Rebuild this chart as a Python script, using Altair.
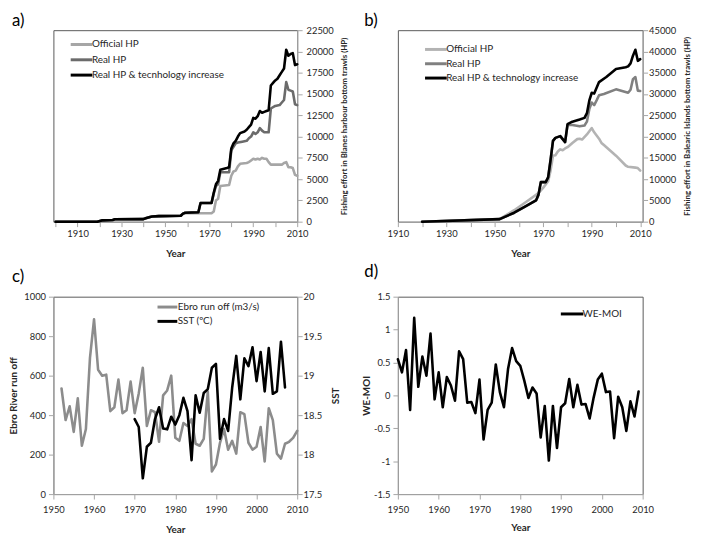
import altair as alt
import pandas as pd

FONT = "Lato"
TXT = "#262626"
AXC = "#a6a6a6"

# ---------------- (a) Blanes harbour ----------------
a_series = ["Official HP", "Real HP", "Real HP & tecnhology increase"]
a_off_years = [1900, 1919, 1921, 1926, 1927, 1940, 1941, 1943, 1944, 1947, 1957, 1958, 1959, 1971, 1972,
               1973, 1974, 1975, 1979, 1980, 1981, 1982, 1983, 1984, 1987, 1988, 1989, 1990, 1991, 1992,
               1993, 1994, 1995, 1996, 1997, 1998, 2003, 2004, 2005, 2006, 2007, 2008, 2009, 2010]
a_off_vals = [0, 0, 150, 200, 280, 300, 400, 550, 600, 650, 700, 950, 1000, 1000, 1200,
              2500, 2700, 4200, 4300, 5400, 5900, 6000, 6500, 6800, 6900, 7000, 7200, 7400, 7300, 7400,
              7300, 7500, 7400, 7400, 7000, 6700, 6700, 6900, 7000, 6400, 6400, 6300, 5500, 5400]
a_real_years = [1900, 1919, 1921, 1926, 1927, 1940, 1941, 1943, 1944, 1947, 1957, 1958, 1959, 1965, 1966,
                1971, 1972, 1973, 1974, 1975, 1979, 1980, 1981, 1982, 1983, 1985, 1987, 1988, 1989, 1990,
                1991, 1992, 1993, 1994, 1995, 1996, 1997, 1998, 2000, 2002, 2003, 2004, 2005, 2006, 2007,
                2008, 2009, 2010]
a_real_vals = [0, 0, 150, 200, 280, 300, 400, 550, 600, 650, 700, 950, 1050, 1100, 2200,
               2200, 3300, 4200, 4400, 5800, 5800, 8400, 8800, 9200, 9300, 9400, 9500, 9800, 10000, 10500,
               10300, 10500, 11000, 10700, 10500, 10500, 10500, 13300, 13600, 13700, 14000, 14300, 16400,
               15500, 15400, 15300, 13800, 13700]
a_tech_years = [1900, 1919, 1921, 1926, 1927, 1940, 1941, 1943, 1944, 1947, 1957, 1958, 1959, 1965, 1966,
                1971, 1972, 1973, 1974, 1975, 1978, 1979, 1980, 1981, 1982, 1983, 1984, 1986, 1987, 1988,
                1989, 1990, 1991, 1992, 1993, 1994, 1995, 1996, 1997, 1998, 1999, 2000, 2001, 2002, 2003,
                2004, 2005, 2006, 2007, 2008, 2009, 2010]
a_tech_vals = [0, 0, 150, 200, 280, 300, 400, 550, 600, 650, 700, 950, 1050, 1100, 2200,
               2200, 3400, 4400, 4800, 6100, 6300, 6400, 8600, 9200, 9500, 10000, 10400, 10600, 10800, 11100,
               11400, 12200, 12100, 12400, 13000, 12800, 12900, 13000, 13100, 16000, 16300, 16600, 16800,
               17200, 17600, 18000, 20200, 19500, 19700, 19800, 18400, 18500]
a_ticks_x = list(range(1900, 2011, 10))
a_ticks_y = list(range(0, 22501, 2500))

# ---------------- (b) Balearic Islands ----------------
b_series = ["Official HP", "Real HP", "Real HP & technology increase"]
b_off_years = [1920, 1952, 1958, 1963, 1968, 1970, 1972, 1973, 1974, 1975, 1976, 1977, 1978, 1979, 1980,
               1982, 1984, 1985, 1986, 1988, 1990, 1991, 1993, 1994, 1995, 2000, 2004, 2005, 2008, 2009, 2010]
b_off_vals = [0, 600, 2700, 4700, 6700, 8000, 9500, 12000, 15500, 15600, 16500, 17000, 16800, 17200, 17500,
              18500, 19400, 19500, 19300, 20500, 22000, 21000, 19500, 18500, 18000, 15500, 13200, 12900,
              12700, 12600, 12000]
b_real_years = [1920, 1952, 1958, 1963, 1967, 1968, 1969, 1971, 1972, 1973, 1974, 1975, 1977, 1979, 1980,
                1982, 1985, 1987, 1988, 1989, 1990, 1991, 1992, 1993, 1995, 2000, 2005, 2006, 2007, 2008,
                2009, 2010]
b_real_vals = [0, 600, 2100, 3700, 5000, 6300, 9300, 9300, 10400, 14500, 19000, 19700, 20100, 18700, 22700,
               22700, 22400, 22600, 23500, 26500, 28000, 27400, 28500, 29700, 30000, 31100, 30300, 31000,
               33500, 34000, 30800, 30700]
b_tech_years = [1920, 1952, 1958, 1963, 1967, 1968, 1969, 1971, 1972, 1973, 1974, 1975, 1977, 1979, 1980,
                1982, 1985, 1987, 1988, 1989, 1990, 1991, 1993, 1996, 2000, 2004, 2005, 2006, 2007, 2008,
                2009, 2010]
b_tech_vals = [0, 600, 2100, 3700, 5000, 6300, 9300, 9300, 10400, 14500, 19000, 19700, 20100, 18700, 22900,
               23500, 24000, 24400, 25500, 28500, 30300, 30100, 32800, 34000, 35900, 36300, 36500, 37200,
               39000, 40400, 37800, 38200]
b_ticks_x = list(range(1910, 2011, 10))
b_ticks_y = list(range(0, 45001, 5000))

# ---------------- (c) Ebro run off & SST ----------------
c_series = ["Ebro run off (m3/s)", "SST (ºC)"]
c_ebro_years = list(range(1952, 2011))
c_ebro = [535, 375, 445, 315, 485, 245, 330, 690, 885, 630,
          600, 605, 420, 440, 580, 410, 425, 570, 410, 510,
          640, 345, 425, 415, 265, 500, 525, 600, 285, 270,
          360, 345, 380, 255, 245, 280, 520, 115, 150, 260,
          330, 225, 270, 205, 415, 405, 260, 225, 240, 340,
          165, 435, 375, 205, 180, 255, 265, 285, 320]
c_sst_years = list(range(1970, 2008))
c_sst = [18.45, 18.35, 17.7, 18.1, 18.15, 18.45, 18.6, 18.33, 18.32, 18.48,
         18.38, 18.5, 18.72, 18.55, 17.93, 18.75, 18.53, 18.78, 18.83, 19.1,
         19.15, 18.2, 18.45, 18.3, 18.85, 19.25, 18.7, 19.22, 19.12, 19.36,
         18.93, 19.3, 18.8, 19.35, 18.77, 18.8, 19.43, 18.85]
c_ticks_x = list(range(1950, 2011, 10))
c_ticks_left = list(range(0, 1001, 200))
c_ticks_right = [17.5, 18, 18.5, 19, 19.5, 20]

# ---------------- (d) WE-MOI ----------------
d_series = ["WE-MOI"]
d_years = list(range(1950, 2010))
d_vals = [0.55, 0.35, 0.69, -0.22, 1.18, 0.13, 0.59, 0.30, 0.94, -0.06,
          0.35, -0.18, 0.28, 0.15, -0.08, 0.67, 0.55, -0.11, -0.10, -0.27,
          0.24, -0.67, -0.22, -0.11, 0.47, 0.05, -0.18, 0.40, 0.72, 0.52,
          0.45, 0.22, -0.04, 0.12, 0.03, -0.64, -0.16, -0.99, -0.16, -0.80,
          -0.18, -0.12, 0.25, -0.18, 0.16, -0.14, -0.13, -0.35, -0.03, 0.24,
          0.33, 0.05, 0.06, -0.65, -0.02, -0.18, -0.54, -0.09, -0.32, 0.06]
d_ticks_y = [-1.5, -1, -0.5, 0, 0.5, 1, 1.5]


def long_df(parts):
    rows = []
    for name, ys, vs in parts:
        for y, v in zip(ys, vs):
            rows.append({"year": y, "value": v, "series": name})
    return pd.DataFrame(rows)


def axis(**kw):
    base = dict(labelFont=FONT, labelFontSize=9.5, labelColor=TXT, titleFont=FONT,
                titleFontSize=10, titleFontWeight="bold", titleColor=TXT,
                domainColor=AXC, tickColor=AXC, tickSize=5, grid=False,
                labelOverlap=False)
    base.update(kw)
    return alt.Axis(**base)


def legend(x, y, path, row_pad):
    return alt.Legend(orient="none", legendX=x, legendY=y, title=None,
                      symbolType=path, symbolSize=144, symbolStrokeWidth=3,
                      labelFont=FONT, labelFontSize=10, labelColor=TXT,
                      labelOffset=3, rowPadding=row_pad, padding=0)


def panel_label(txt, dx, dy):
    return alt.Chart(pd.DataFrame({"t": [txt]})).mark_text(
        align="left", baseline="top", font=FONT, fontSize=17, color="#000"
    ).encode(text="t:N", x=alt.value(dx), y=alt.value(dy))


LINE = dict(strokeWidth=2.6, strokeJoin="round", strokeCap="round")

# ---- panel a ----
df_a = long_df([(a_series[0], a_off_years, a_off_vals),
                (a_series[1], a_real_years, a_real_vals),
                (a_series[2], a_tech_years, a_tech_vals)])
line_a = alt.Chart(df_a).mark_line(**LINE).encode(
    x=alt.X("year:Q", scale=alt.Scale(domain=[1899, 2010], nice=False, zero=False),
            axis=axis(values=a_ticks_x, format="d",
                      labelExpr="datum.value % 20 == 10 ? datum.label : ''",
                      labelFlush=False, labelPadding=2, title="Year", titlePadding=11)),
    y=alt.Y("value:Q", scale=alt.Scale(domain=[0, 22500], nice=False),
            axis=axis(orient="right", values=a_ticks_y, format="d", labelPadding=4,
                      title="Fishing  effort in Blanes harbour  bottom trawls (HP)",
                      titleFontSize=8, titleAngle=270, titleBaseline="top", titlePadding=7)),
    color=alt.Color("series:N", scale=alt.Scale(domain=a_series, range=["#a6a6a6", "#6b6b6b", "#000000"]),
                    legend=legend(21, 7, "M-1.83,0H1.83", 1.5)),
)
panel_a = alt.layer(line_a, panel_label("a)", -42, -17)).properties(width=247, height=194)

# ---- panel b ----
df_b = long_df([(b_series[0], b_off_years, b_off_vals),
                (b_series[1], b_real_years, b_real_vals),
                (b_series[2], b_tech_years, b_tech_vals)])
line_b = alt.Chart(df_b).mark_line(**LINE).encode(
    x=alt.X("year:Q", scale=alt.Scale(domain=[1910, 2011], nice=False, zero=False),
            axis=axis(values=b_ticks_x, format="d",
                      labelExpr="datum.value % 20 == 10 ? datum.label : ''",
                      labelFlush=False, labelPadding=2, title="Year", titlePadding=11)),
    y=alt.Y("value:Q", scale=alt.Scale(domain=[0, 45000], nice=False),
            axis=axis(orient="right", values=b_ticks_y, format="d", labelPadding=1,
                      title="Fishing  effort in Balearic Islands bottom trawls (HP)",
                      titleFontSize=8, titleAngle=270, titleBaseline="top", titlePadding=8)),
    color=alt.Color("series:N", scale=alt.Scale(domain=b_series, range=["#b3b3b3", "#808080", "#000000"]),
                    legend=legend(31, 12, "M-1.83,0H1.83", 0.5)),
)
panel_b = alt.layer(line_b, panel_label("b)", -34, -17)).properties(width=248, height=194)

# ---- panel c ----
df_c_ebro = pd.DataFrame({"year": c_ebro_years, "value": c_ebro, "series": c_series[0]})
df_c_sst = pd.DataFrame({"year": c_sst_years, "value": c_sst, "series": c_series[1]})
x_c = alt.X("year:Q", scale=alt.Scale(domain=[1950, 2010], nice=False, zero=False),
            axis=axis(values=c_ticks_x, format="d", labelFlush=False, labelPadding=6,
                      title="Year", titlePadding=10))
color_c = alt.Color("series:N", scale=alt.Scale(domain=c_series, range=["#8c8c8c", "#000000"]),
                    legend=legend(108, 3, "M-1.67,0H1.67", 0.5))
ebro_line = alt.Chart(df_c_ebro).mark_line(**LINE).encode(
    x=x_c,
    y=alt.Y("value:Q", scale=alt.Scale(domain=[0, 1000], nice=False),
            axis=axis(values=c_ticks_left, format="d", labelPadding=3,
                      title="Ebro River run off", titlePadding=5)),
    color=color_c,
)
sst_line = alt.Chart(df_c_sst).mark_line(**LINE).encode(
    x=x_c,
    y=alt.Y("value:Q", scale=alt.Scale(domain=[17.5, 20], nice=False, zero=False),
            axis=axis(orient="right", values=c_ticks_right, format=".1~f", labelPadding=1,
                      title="SST", titleAngle=270, titleBaseline="top", titlePadding=9)),
    color=color_c,
)
panel_c = alt.layer(ebro_line, sst_line, panel_label("c)", -42, -28)).resolve_scale(
    y="independent").properties(width=247, height=200)

# ---- panel d ----
df_d = pd.DataFrame({"year": d_years, "value": d_vals, "series": d_series[0]})
line_d = alt.Chart(df_d).mark_line(**LINE).encode(
    x=alt.X("year:Q", scale=alt.Scale(domain=[1950, 2010], nice=False, zero=False),
            axis=axis(values=c_ticks_x, format="d", labelFlush=False, labelPadding=6,
                      title="Year", titlePadding=8)),
    y=alt.Y("value:Q", scale=alt.Scale(domain=[-1.5, 1.5], nice=False, zero=False),
            axis=axis(values=d_ticks_y, labelPadding=3,
                      labelExpr="(datum.value < 0 ? '-' : '') + format(abs(datum.value), '.1~f')",
                      title="WE-MOI", titlePadding=2)),
    color=alt.Color("series:N", scale=alt.Scale(domain=d_series, range=["#000000"]),
                    legend=legend(169, 10, "M-1.9,0H1.9", 0.5)),
)
panel_d = alt.layer(line_d, panel_label("d)", -34, -33)).properties(width=248, height=200)

chart = alt.concat(
    panel_a, panel_b, panel_c, panel_d,
    columns=2, spacing={"row": 76, "column": 102}, bounds="flush", align="each",
).resolve_scale(color="independent").properties(
    padding=0, background="white"
).configure_view(stroke="#595959", strokeWidth=1)

chart.save("out.html", embed_options={"renderer": "svg", "actions": False})
